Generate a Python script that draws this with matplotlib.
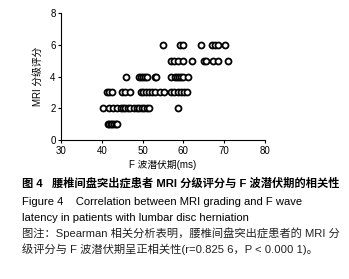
import numpy as np
import matplotlib.pyplot as plt

plt.rcParams['font.family'] = ['Liberation Sans', 'Noto Sans CJK SC', 'DejaVu Sans']

# F wave latency (ms) for each MRI grade
latency_g1 = [41.4, 41.8, 42.2, 42.6, 43.0, 43.4, 43.8]
latency_g2 = [40.2, 41.8, 42.8, 43.8, 44.6, 45.2, 45.8, 46.4, 47.0, 47.8, 48.6,
              49.2, 49.8, 50.4, 51.0, 51.6, 58.6]
latency_g3 = [41.2, 41.8, 42.4, 45.0, 45.8, 47.0, 49.5, 50.2, 50.8, 51.5, 52.2,
              53.0, 54.2, 55.3, 57.0, 57.8, 58.6, 59.4, 60.2, 60.8]
latency_g4 = [46.0, 49.0, 49.5, 50.0, 50.5, 51.0, 53.0, 53.4, 57.0, 58.0, 58.5,
              59.0, 59.5, 60.0, 61.2]
latency_g5 = [57.0, 57.8, 58.6, 59.8, 62.0, 65.0, 65.5, 67.2, 68.4, 70.9]
latency_g6 = [55.0, 59.2, 59.8, 64.3, 67.0, 67.8, 68.6, 70.3]

grades = [1, 2, 3, 4, 5, 6]
latencies = [latency_g1, latency_g2, latency_g3, latency_g4, latency_g5, latency_g6]

fig = plt.figure(figsize=(3.49, 2.79), dpi=100)
ax = fig.add_axes([0.175, 0.498, 0.584, 0.455])

for g, lat in zip(grades, latencies):
    ax.plot(lat, [g] * len(lat), linestyle='', marker='o', markersize=4.3,
            markerfacecolor='white', markeredgecolor='black', markeredgewidth=1.3)

ax.set_xlim(30, 80)
ax.set_ylim(0, 8)
ax.set_xticks([30, 40, 50, 60, 70, 80])
ax.set_yticks([0, 2, 4, 6, 8])
ax.spines['top'].set_visible(False)
ax.spines['right'].set_visible(False)
for s in ['left', 'bottom']:
    ax.spines[s].set_linewidth(0.8)
ax.tick_params(labelsize=7, length=2.5, width=0.8, pad=1.5)
ax.set_xlabel('F 波潜伏期(ms)', fontsize=7, labelpad=3)
ax.set_ylabel('MRI 分级评分', fontsize=7, labelpad=5)

# caption
fs = 8.1
fig.text(0.063, 1 - 183 / 279, '图 4   腰椎间盘突出症患者 MRI 分级评分与 F 波潜伏期的相关性',
         fontsize=fs, fontweight='bold', va='center', ha='left')
fig.text(0.063, 1 - 202 / 279, 'Figure 4    Correlation between MRI grading and F wave',
         fontsize=fs, va='center', ha='left')
fig.text(0.063, 1 - 218 / 279, 'latency in patients with lumbar disc herniation',
         fontsize=fs, va='center', ha='left')
fig.text(0.063, 1 - 233 / 279, '图注：Spearman 相关分析表明，腰椎间盘突出症患者的 MRI 分',
         fontsize=fs, va='center', ha='left', color='#222222')
fig.text(0.063, 1 - 249 / 279, '级评分与 F 波潜伏期呈正相关性(r=0.825 6，P < 0.000 1)。',
         fontsize=fs, va='center', ha='left', color='#222222')

fig.savefig('out.png', dpi=100)
